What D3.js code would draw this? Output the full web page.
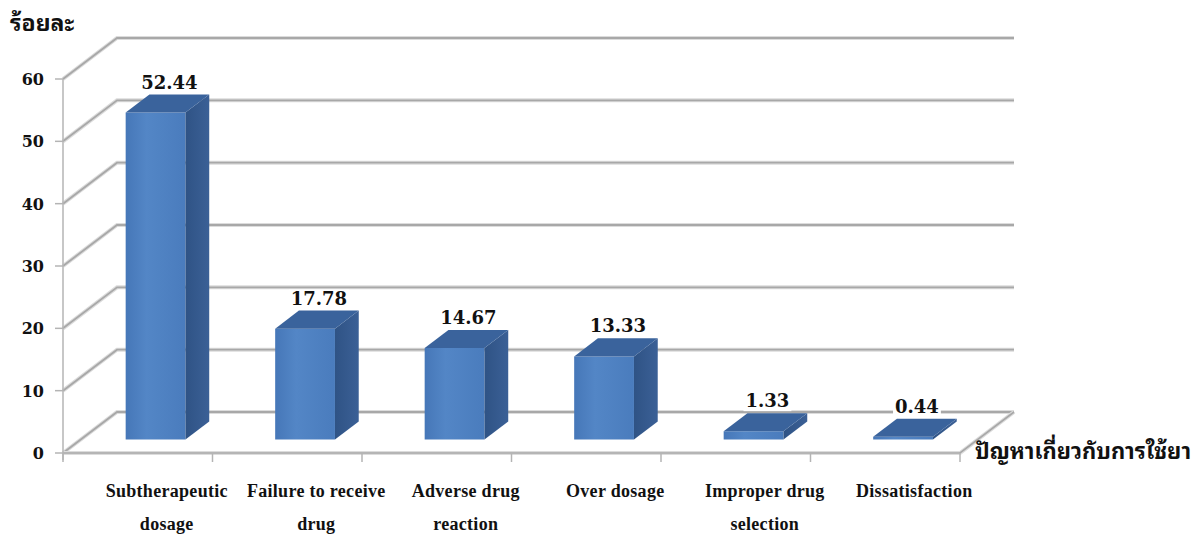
<!DOCTYPE html>
<html>
<head>
<meta charset="utf-8">
<script src="https://cdn.jsdelivr.net/npm/d3@7"></script>
<style>
  body { margin: 0; background: #fff; }
  svg { display: block; }
</style>
</head>
<body>
<div id="chart"></div>
<script>
// data
const categories = [
    ["Subtherapeutic", "dosage"],
    ["Failure to receive", "drug"],
    ["Adverse drug", "reaction"],
    ["Over dosage"],
    ["Improper drug", "selection"],
    ["Dissatisfaction"]
];
const values = [52.44, 17.78, 14.67, 13.33, 1.33, 0.44];
const yTicks = [0, 10, 20, 30, 40, 50, 60];
const yTitle = "ร้อยละ";
const xTitle = "ปัญหาเกี่ยวกับการใช้ยา";

const dims = {width: 1195, height: 535};
const plot = {left: 63, right: 960, top: 79, bottom: 453};
const depth = {dx: 54, dy: -41, z0: 0.33, z1: 0.77};

const thaiFont = "'Noto Sans Thai Looped', 'Noto Serif Thai', Loma, Garuda, Tahoma, 'Noto Sans Thai', sans-serif";
const numFont = "'DejaVu Serif', serif";
const catFont = "'Liberation Serif', 'Times New Roman', serif";

const svg = d3.select("#chart")
    .append("svg")
    .attr("width", dims.width)
    .attr("height", dims.height);

const xScale = d3.scaleBand()
    .domain(d3.range(categories.length))
    .range([plot.left, plot.right]);

const yScale = d3.scaleLinear()
    .domain([0, 60])
    .range([plot.bottom, plot.top]);

// project a point (screen x on front plane, value, depth 0..1)
const proj = (x, v, z) => [x + z * depth.dx, yScale(v) + z * depth.dy];
const poly = pts => "M" + pts.map(p => p.join(",")).join("L") + "Z";

const defs = svg.append("defs");
const gFront = defs.append("linearGradient").attr("id", "front");
gFront.append("stop").attr("offset", "0%").attr("stop-color", "#4677b8");
gFront.append("stop").attr("offset", "35%").attr("stop-color", "#5386c6");
gFront.append("stop").attr("offset", "100%").attr("stop-color", "#4a7cbd");
const gSide = defs.append("linearGradient").attr("id", "side");
gSide.append("stop").attr("offset", "0%").attr("stop-color", "#2f5385");
gSide.append("stop").attr("offset", "100%").attr("stop-color", "#3b6096");

// back wall gridlines
const grid = svg.append("g");
yTicks.forEach(t => {
    const d = "M" + proj(plot.left, t, 0) + "L" + proj(plot.left, t, 1) + "L" + proj(plot.right, t, 1);
    grid.append("path").attr("d", d)
        .attr("fill", "none").attr("stroke", "#dcdcdc").attr("stroke-width", 4);
    grid.append("path").attr("d", d)
        .attr("fill", "none").attr("stroke", "#a8a8a8").attr("stroke-width", 1.8);
});

// floor right edge and front edge
const floorD = "M" + proj(plot.right, 0, 1) + "L" + proj(plot.right, 0, 0) + "L" + proj(plot.left, 0, 0);
grid.append("path").attr("d", floorD)
    .attr("fill", "none").attr("stroke", "#dcdcdc").attr("stroke-width", 4);
grid.append("path").attr("d", floorD)
    .attr("fill", "none").attr("stroke", "#a8a8a8").attr("stroke-width", 1.6);

// left axis line and ticks
const axis = svg.append("g").attr("stroke", "#b4b4b4").attr("stroke-width", 1.5);
axis.append("line")
    .attr("x1", plot.left).attr("x2", plot.left)
    .attr("y1", yScale(60)).attr("y2", yScale(0) + 7);
axis.selectAll(".ytick").data(yTicks).join("line")
    .attr("x1", plot.left - 8).attr("x2", plot.left)
    .attr("y1", d => yScale(d)).attr("y2", d => yScale(d));
axis.selectAll(".xtick").data(d3.range(categories.length + 1)).join("line")
    .attr("x1", i => plot.left + i * xScale.step())
    .attr("x2", i => plot.left + i * xScale.step())
    .attr("y1", yScale(0)).attr("y2", yScale(0) + 9);

svg.append("g").selectAll("text").data(yTicks).join("text")
    .attr("x", 44)
    .attr("y", d => yScale(d) + 6)
    .attr("text-anchor", "end")
    .attr("font-family", numFont)
    .attr("font-weight", "bold")
    .attr("font-size", 16)
    .attr("fill", "#111")
    .text(d => d);

// bars
const bw = xScale.bandwidth();
const bars = svg.append("g");
values.forEach((v, i) => {
    const x0 = xScale(i) + bw * 0.3;
    const x1 = x0 + bw * 0.4;
    const g = bars.append("g");
    g.append("path")
        .attr("d", poly([proj(x0, 0, depth.z0), proj(x1, 0, depth.z0), proj(x1, v, depth.z0), proj(x0, v, depth.z0)]))
        .attr("fill", "url(#front)");
    g.append("path")
        .attr("d", poly([proj(x1, 0, depth.z0), proj(x1, 0, depth.z1), proj(x1, v, depth.z1), proj(x1, v, depth.z0)]))
        .attr("fill", "url(#side)");
    g.append("path")
        .attr("d", poly([proj(x0, v, depth.z0), proj(x1, v, depth.z0), proj(x1, v, depth.z1), proj(x0, v, depth.z1)]))
        .attr("fill", "#3a639c");
});

// value labels with white box
const labels = svg.append("g");
values.forEach((v, i) => {
    const cx = xScale(i) + bw / 2 + (depth.z0 + depth.z1) / 2 * depth.dx + 2;
    const by = yScale(v) + depth.z1 * depth.dy - 6;
    const txt = labels.append("text")
        .attr("x", cx).attr("y", by)
        .attr("text-anchor", "middle")
        .attr("font-family", numFont)
        .attr("font-weight", "bold")
        .attr("font-size", 18)
        .attr("fill", "#111")
        .text(v.toFixed(2));
    const bb = txt.node().getBBox();
    labels.insert("rect", "text:last-child")
        .attr("x", bb.x - 2).attr("y", bb.y + 2)
        .attr("width", bb.width + 4).attr("height", bb.height - 2)
        .attr("fill", "#fff");
});

// category labels
svg.append("g").selectAll("text").data(categories).join("text")
    .attr("transform", (d, i) => `translate(${xScale(i) + bw / 2 + 29},497)`)
    .attr("text-anchor", "middle")
    .attr("font-family", catFont)
    .attr("font-weight", "bold")
    .attr("font-size", 18)
    .attr("letter-spacing", 0.3)
    .attr("fill", "#111")
    .selectAll("tspan").data(d => d).join("tspan")
    .attr("x", 0)
    .attr("dy", (d, j) => j === 0 ? 0 : 33)
    .text(d => d);

// titles
svg.append("text")
    .attr("x", 10).attr("y", 31)
    .attr("font-family", thaiFont)
    .attr("font-weight", "bold")
    .attr("font-size", 23)
    .attr("fill", "#111")
    .text(yTitle);

svg.append("text")
    .attr("x", 975).attr("y", 459)
    .attr("font-family", thaiFont)
    .attr("font-weight", "bold")
    .attr("font-size", 22)
    .attr("fill", "#111")
    .text(xTitle);
</script>
</body>
</html>
